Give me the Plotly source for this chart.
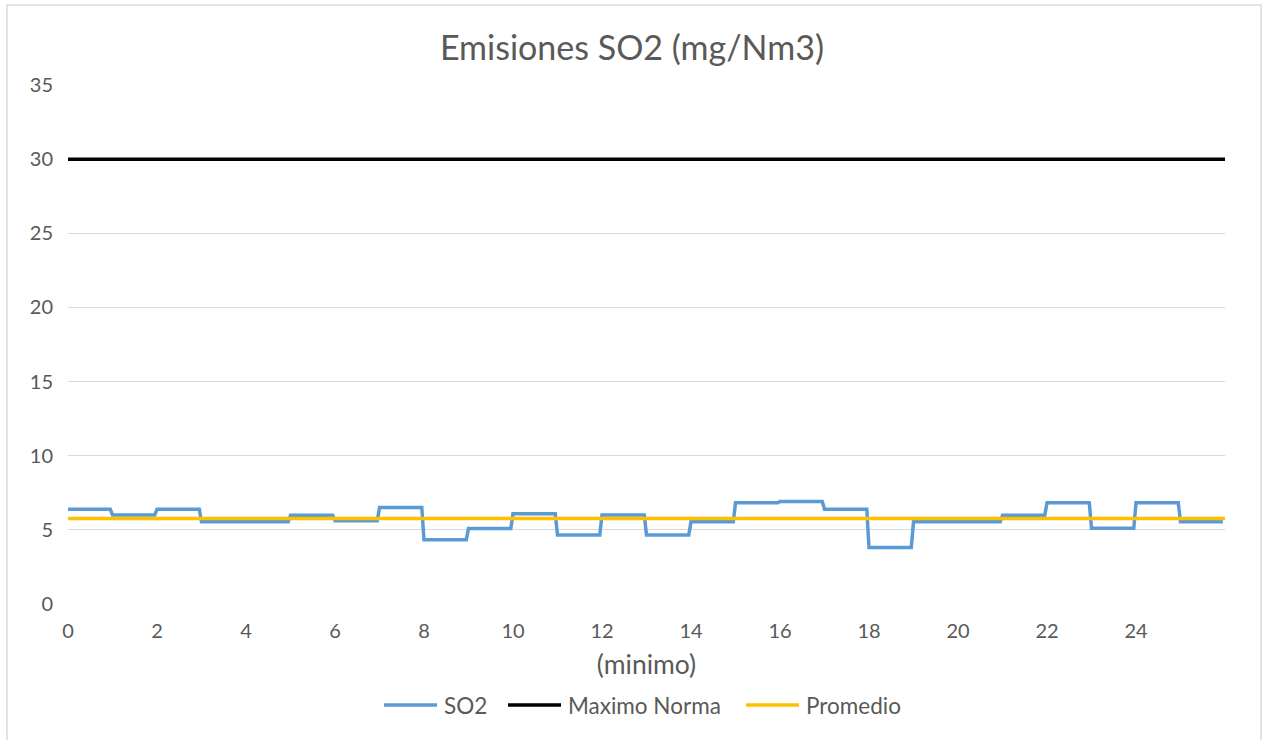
import plotly.graph_objects as go

# Data
minutes = list(range(26))
so2_level = [6.39, 6.01, 6.39, 5.54, 5.54, 5.99, 5.61, 6.50, 4.33, 5.09,
             6.08, 4.66, 6.01, 4.66, 5.54, 6.82, 6.91, 6.39, 3.81, 5.54,
             5.54, 5.99, 6.82, 5.11, 6.82, 5.54]
maximo_norma = 30
promedio = 5.76
x_end = 26
x_ticks = list(range(0, 26, 2))
y_ticks = list(range(0, 40, 5))
series_names = ["SO2", "Maximo Norma", "Promedio"]
series_colors = ["#5B9BD5", "#000000", "#FFC000"]

# each minute's level is held through the minute (step series)
xs, ys = [], []
for m, v in zip(minutes, so2_level):
    xs += [m, min(m + 0.95, x_end)]
    ys += [v, v]

FONT = "Lato"
GRAY = "#595959"
L, R, T, B = 68, 39, 85, 136
PW, PH = 1264 - L - R, 740 - T - B


def px_x(p):
    return (p - L) / PW


def px_y(p):
    return (740 - B - p) / PH


fig = go.Figure()
fig.add_trace(go.Scatter(x=xs, y=ys, mode="lines", name=series_names[0],
                         line=dict(color=series_colors[0], width=3.5)))
fig.add_trace(go.Scatter(x=[0, x_end], y=[maximo_norma, maximo_norma], mode="lines",
                         name=series_names[1], line=dict(color=series_colors[1], width=3.5)))
fig.add_trace(go.Scatter(x=[0, x_end], y=[promedio, promedio], mode="lines",
                         name=series_names[2], line=dict(color=series_colors[2], width=3.5)))

# legend drawn as in the original (line swatch + label)
legend_sym_x = [384, 508, 746]
legend_y = 705
shapes = [dict(type="rect", xref="paper", yref="paper",
               x0=px_x(7), x1=px_x(1261), y0=px_y(760), y1=px_y(5),
               line=dict(color="#D9D9D9", width=1.5), fillcolor="rgba(0,0,0,0)",
               layer="below")]
annotations = []
for name, color, sx in zip(series_names, series_colors, legend_sym_x):
    shapes.append(dict(type="line", xref="paper", yref="paper",
                       x0=px_x(sx), x1=px_x(sx + 53), y0=px_y(legend_y), y1=px_y(legend_y),
                       line=dict(color=color, width=3.5)))
    annotations.append(dict(text=name, xref="paper", yref="paper",
                            x=px_x(sx + 58), y=px_y(legend_y), xanchor="left",
                            yanchor="middle", showarrow=False,
                            font=dict(family=FONT, size=22.5, color=GRAY)))

fig.update_layout(
    width=1264, height=740,
    margin=dict(l=L, r=R, t=T, b=B),
    paper_bgcolor="white", plot_bgcolor="white",
    font=dict(family=FONT, color=GRAY, size=20),
    title=dict(text="Emisiones SO2 (mg/Nm3)", x=0.5, xanchor="center",
               y=1 - 48 / 740, yanchor="middle",
               font=dict(family=FONT, size=34, color=GRAY)),
    xaxis=dict(range=[0, x_end], tickvals=x_ticks, showgrid=False, zeroline=False,
               showline=False, ticks="", tickfont=dict(size=20, color=GRAY),
               ticklabelstandoff=13,
               title=dict(text="(minimo)", font=dict(size=26.5, color=GRAY), standoff=14)),
    yaxis=dict(range=[0, 35], tickvals=y_ticks, showgrid=True, gridcolor="#D9D9D9",
               gridwidth=1, zeroline=False, showline=False, ticks="",
               tickfont=dict(size=20, color=GRAY), ticklabelstandoff=14),
    showlegend=False,
    shapes=shapes,
    annotations=annotations,
)

fig.write_html("out.html")
